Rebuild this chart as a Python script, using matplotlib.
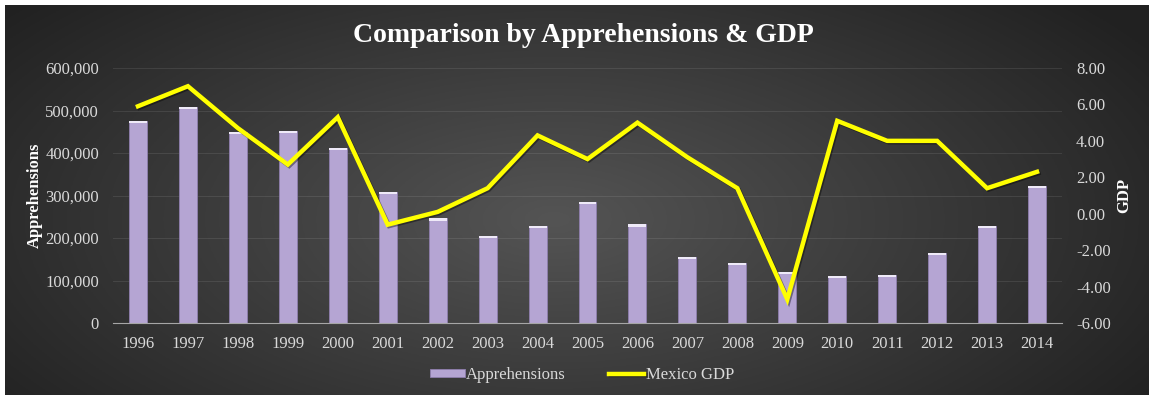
import numpy as np
import matplotlib.pyplot as plt
import matplotlib.patheffects as pe
from matplotlib.patches import Rectangle

years = ["1996", "1997", "1998", "1999", "2000", "2001", "2002", "2003", "2004", "2005",
         "2006", "2007", "2008", "2009", "2010", "2011", "2012", "2013", "2014"]
apprehensions = [475000, 509000, 450000, 452000, 411000, 309000, 246000, 205000, 228000, 285500,
                 232000, 154500, 140500, 120000, 110500, 113000, 164000, 228000, 323000]
mexico_gdp = [5.9, 7.0, 4.7, 2.7, 5.3, -0.6, 0.1, 1.4, 4.3, 3.0,
              5.0, 3.1, 1.4, -4.7, 5.1, 4.0, 4.0, 1.4, 2.3]

BAR_COLOR = "#b5a5d3"
LINE_COLOR = "#ffff00"
TEXT_COLOR = "#d9d9d9"

plt.rcParams["font.family"] = ["Liberation Serif", "DejaVu Serif"]

W, H = 1149, 395
fig = plt.figure(figsize=(W / 100, H / 100), dpi=100, facecolor="white")

# dark radial background panel
bg = fig.add_axes([5 / W, 0, 1 - 5 / W, 1 - 5 / H])
gx, gy = np.meshgrid(np.linspace(0, 1, 400), np.linspace(0, 1, 200))
r = np.sqrt(((gx - 0.48) / 0.62) ** 2 + ((gy - 0.45) / 0.85) ** 2)
shade = np.clip(0.33 - 0.2 * r, 0.13, 0.33)
bg.imshow(np.dstack([shade] * 3), aspect="auto", extent=[0, 1, 0, 1], origin="lower")
bg.set_xlim(0, 1)
bg.set_ylim(0, 1)
bg.set_axis_off()

ax = fig.add_axes([113 / W, 1 - 323 / H, (1062 - 113) / W, (323 - 68) / H])
ax.patch.set_alpha(0)
x = np.arange(len(years))

bars = ax.bar(x, apprehensions, width=0.36, color=BAR_COLOR, edgecolor="#8f7fae",
              linewidth=0.6, zorder=2, label="Apprehensions")
# light bevel at the top of each bar
for b in bars:
    cap = Rectangle((b.get_x(), b.get_height() - 5000), b.get_width(), 5000,
                    facecolor="#efeaf8", edgecolor="none", zorder=3)
    ax.add_patch(cap)

ax.set_ylim(0, 600000)
ax.set_yticks(np.arange(0, 600001, 100000))
ax.set_yticklabels([f"{v:,}" for v in range(0, 600001, 100000)])
ax.set_xlim(-0.5, len(years) - 0.5)
ax.set_xticks(x)
ax.set_xticklabels(years)
ax.grid(axis="y", color="white", alpha=0.09, linewidth=0.8, zorder=0)
ax.set_axisbelow(True)
for s in ["top", "right", "left"]:
    ax.spines[s].set_visible(False)
ax.spines["bottom"].set_color("#a6a6a6")
ax.spines["bottom"].set_zorder(4)
ax.tick_params(axis="both", length=0, colors=TEXT_COLOR, labelsize=12)
ax.tick_params(axis="x", pad=9)
ax.tick_params(axis="y", pad=10)
ax.set_ylabel("Apprehensions", color="white", fontsize=12, fontweight="bold", labelpad=2)

ax2 = ax.twinx()
line, = ax2.plot(x, mexico_gdp, color=LINE_COLOR, linewidth=3.2, zorder=5,
                 solid_joinstyle="miter", label="Mexico GDP",
                 path_effects=[pe.SimpleLineShadow(offset=(1, -1), shadow_color="black", alpha=0.4),
                               pe.Normal()])
ax2.set_ylim(-6, 8)
ax2.set_yticks(np.arange(-6, 8.1, 2))
ax2.set_yticklabels([f"{v:.2f}" for v in np.arange(-6, 8.1, 2)])
for s in ["top", "right", "left", "bottom"]:
    ax2.spines[s].set_visible(False)
ax2.tick_params(axis="y", length=0, colors=TEXT_COLOR, labelsize=12, pad=10)
ax2.set_ylabel("GDP", color="white", fontsize=12, fontweight="bold", rotation=90, labelpad=4)

fig.text(0.5075, 1 - 35 / H, "Comparison by Apprehensions & GDP", ha="center", va="center",
         color="white", fontsize=20, fontweight="bold")

leg = fig.legend(handles=[bars, line], loc="center", bbox_to_anchor=(582 / W, 1 - 375 / H),
                 ncol=2, frameon=False, fontsize=12, handlelength=2.1, handleheight=0.35,
                 handletextpad=0.1, columnspacing=2.6)
for t in leg.get_texts():
    t.set_color(TEXT_COLOR)

fig.savefig("out.png", dpi=100, facecolor="white")
